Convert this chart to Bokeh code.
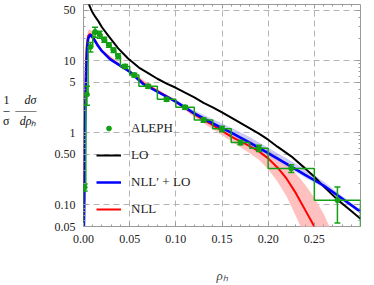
from bokeh.plotting import figure
from bokeh.models import (Range1d, FixedTicker, SingleIntervalTicker, LinearAxis, LogAxis,
                          CustomJSTickFormatter, PrintfTickFormatter, Legend, LegendItem)
from bokeh.embed import file_html
from bokeh.resources import INLINE

# ---------------- data ----------------
aleph_edges = [0.0, 0.0025, 0.005, 0.01, 0.015, 0.02, 0.025, 0.03, 0.035, 0.04, 0.05,
               0.06, 0.08, 0.10, 0.12, 0.14, 0.16, 0.18, 0.20, 0.25, 0.30]
aleph_values = [0.175, 3.4, 15.5, 25.0, 23.0, 19.5, 16.5, 14.0, 11.5, 8.3, 6.3,
                4.4, 2.9, 2.25, 1.5, 1.13, 0.73, 0.61, 0.32, 0.116]
aleph_errors = [0.02, 1.0, 2.3, 4.0, 2.5, 1.5, 1.2, 1.0, 0.9, 0.5, 0.4,
                0.25, 0.17, 0.13, 0.1, 0.1, 0.05, 0.06, 0.04, 0.06]

lo_rho = [0.0055, 0.008, 0.010, 0.013, 0.0162, 0.02, 0.027, 0.0376, 0.048, 0.06, 0.07, 0.08,
          0.09, 0.10, 0.11, 0.12, 0.13, 0.14, 0.15, 0.16, 0.175, 0.19, 0.20, 0.21, 0.225,
          0.24, 0.25, 0.26, 0.275, 0.29, 0.30]
lo_val = [62, 52, 46, 40, 35, 29, 22, 14.8, 10.8, 8.0, 6.7, 5.6,
          4.8, 4.2, 3.6, 3.1, 2.6, 2.25, 1.92, 1.62, 1.25, 0.97, 0.8, 0.64, 0.47,
          0.32, 0.245, 0.18, 0.118, 0.082, 0.064]

nllp_rho = [0.0005, 0.002, 0.003, 0.004, 0.005, 0.0073, 0.010, 0.015, 0.02, 0.0286, 0.035,
            0.045, 0.05, 0.065, 0.08, 0.10, 0.12, 0.14, 0.16, 0.18, 0.20, 0.22, 0.24,
            0.26, 0.28, 0.30]
nllp_val = [0.05, 2.0, 8.0, 15.0, 20.0, 23.0, 21.0, 16.5, 13.5, 10.5, 9.3,
            7.7, 7.0, 4.7, 3.7, 2.7, 1.85, 1.35, 1.0, 0.73, 0.52, 0.37, 0.26,
            0.185, 0.122, 0.08]

nll_rho = [0.0005, 0.0015, 0.0025, 0.0035, 0.005, 0.007, 0.01, 0.015, 0.02, 0.03, 0.04,
           0.05, 0.065, 0.08, 0.10, 0.12, 0.14, 0.16, 0.18, 0.19, 0.20, 0.21, 0.22,
           0.23, 0.24, 0.25, 0.255]
nll_val = [0.05, 1.5, 8.0, 16.0, 22.0, 23.5, 21.5, 16.8, 13.6, 10.4, 8.4,
           7.1, 4.85, 3.8, 2.7, 1.8, 1.27, 0.88, 0.65, 0.55, 0.44, 0.33, 0.23,
           0.145, 0.085, 0.05, 0.035]

nll_band_rho = [0.0015, 0.0025, 0.0035, 0.005, 0.007, 0.01, 0.015, 0.02, 0.05, 0.08, 0.10,
                0.12, 0.14, 0.16, 0.18, 0.19, 0.20, 0.21, 0.22, 0.23, 0.235, 0.24, 0.25,
                0.26, 0.267, 0.27]
nll_band_lo = [1.0, 6.0, 13.0, 19.5, 21.0, 19.5, 15.8, 13.0, 6.8, 3.65, 2.55,
               1.65, 1.12, 0.76, 0.52, 0.42, 0.31, 0.21, 0.13, 0.07, 0.05, 0.035, 0.02,
               0.01, 0.01, 0.01]
nll_band_hi = [2.5, 11.0, 20.0, 26.0, 27.5, 24.5, 17.8, 14.2, 7.3, 3.98, 2.88,
               1.97, 1.43, 1.02, 0.78, 0.68, 0.58, 0.47, 0.37, 0.27, 0.23, 0.19, 0.125,
               0.075, 0.048, 0.04]

nllp_band_rho = [0.08, 0.10, 0.12, 0.14, 0.16, 0.18, 0.20, 0.22, 0.24, 0.26, 0.28, 0.30]
nllp_band_lo = [3.62, 2.6, 1.76, 1.26, 0.92, 0.67, 0.48, 0.34, 0.24, 0.172, 0.113, 0.076]
nllp_band_hi = [3.8, 2.85, 2.03, 1.54, 1.17, 0.87, 0.62, 0.44, 0.31, 0.21, 0.132, 0.085]

y_ticks = [0.05, 0.1, 0.5, 1, 5, 10, 50]
y_tick_labels = ["0.05", "0.10", "0.50", "1", "5", "10", "50"]
y_minor = [0.06, 0.07, 0.08, 0.09, 0.2, 0.3, 0.4, 0.6, 0.7, 0.8, 0.9,
           2, 3, 4, 6, 7, 8, 9, 20, 30, 40]
x_grid = [0.05, 0.10, 0.15, 0.20, 0.25]
y_grid = [0.1, 0.5, 1, 5, 10, 50]

legend_labels = ["ALEPH", "LO", "NLL\u2032 + LO", "NLL"]
x_title = "\u03c1\u2095"
y_title_left = "1\n\u2013\n\u03c3\n\u00a0"
y_title_right = "d\u03c3\n\u2014\u2014\nd\u03c1\u2095\n\u00a0"

# ---------------- styles ----------------
GREEN = "#14a014"
FRAME = "#9a9a9a"
SERIF = "Liberation Serif"

p = figure(width=374, height=285, x_range=Range1d(0, 0.3), y_range=Range1d(0.05, 60),
           y_axis_type="log", output_backend="svg", toolbar_location=None,
           min_border_left=80, min_border_right=14, min_border_top=4, min_border_bottom=53)
p.background_fill_color = "white"
p.border_fill_color = "white"
p.outline_line_color = FRAME
p.outline_line_width = 1

# grids
p.xgrid.ticker = FixedTicker(ticks=x_grid)
p.ygrid.ticker = FixedTicker(ticks=y_grid)
for g in (p.xgrid, p.ygrid):
    g.grid_line_color = "#b4b4b4"
    g.grid_line_dash = "6 4"
    g.grid_line_width = 1

# axes
ylab_fmt = CustomJSTickFormatter(args=dict(vals=y_ticks, labs=y_tick_labels), code="""
    for (let i = 0; i < vals.length; i++) {
        if (Math.abs(vals[i] - tick) < 1e-6 * vals[i]) return labs[i];
    }
    return '';
""")
empty_fmt = CustomJSTickFormatter(code="return '';")

def style_axis(ax):
    ax.axis_line_color = None
    ax.major_tick_line_color = FRAME
    ax.minor_tick_line_color = FRAME
    ax.major_tick_out = 0
    ax.major_tick_in = 4
    ax.minor_tick_out = 0
    ax.minor_tick_in = 2
    ax.major_label_text_font = SERIF
    ax.major_label_text_font_size = "12px"
    ax.major_label_text_color = "#222222"

p.xaxis.ticker = SingleIntervalTicker(interval=0.05, num_minor_ticks=5)
p.xaxis.formatter = PrintfTickFormatter(format="%.2f")
p.xaxis.major_label_standoff = 8
p.xaxis.axis_label = x_title
p.xaxis.axis_label_text_font = SERIF
p.xaxis.axis_label_text_font_style = "italic"
p.xaxis.axis_label_text_font_size = "13px"
p.xaxis.axis_label_standoff = 22
style_axis(p.xaxis[0])

p.yaxis.ticker = FixedTicker(ticks=y_ticks, minor_ticks=y_minor)
p.yaxis.formatter = ylab_fmt
p.yaxis.major_label_standoff = 8
style_axis(p.yaxis[0])

top_ax = LinearAxis(ticker=SingleIntervalTicker(interval=0.05, num_minor_ticks=5),
                    formatter=empty_fmt)
style_axis(top_ax)
top_ax.major_label_text_font_size = "0px"
top_ax.major_label_standoff = 0
p.add_layout(top_ax, "above")

right_ax = LogAxis(ticker=FixedTicker(ticks=y_ticks, minor_ticks=y_minor), formatter=empty_fmt)
style_axis(right_ax)
right_ax.major_label_text_font_size = "0px"
right_ax.major_label_standoff = 0
p.add_layout(right_ax, "right")

# y-axis title as a fraction: two tickless axes stacked on the left
def title_axis(text, standoff, style):
    ax = LinearAxis(ticker=FixedTicker(ticks=[]), formatter=empty_fmt)
    ax.axis_line_color = None
    ax.major_tick_line_color = None
    ax.minor_tick_line_color = None
    ax.major_tick_out = 0
    ax.minor_tick_out = 0
    ax.major_label_standoff = 0
    ax.major_label_text_font_size = "0px"
    ax.axis_label = text
    ax.axis_label_orientation = "horizontal"
    ax.axis_label_standoff = standoff
    ax.axis_label_text_font = SERIF
    ax.axis_label_text_font_size = "12px"
    ax.axis_label_text_font_style = style
    ax.axis_label_text_line_height = 0.75
    ax.axis_label_text_color = "#111111"
    return ax

p.add_layout(title_axis(y_title_right, 15, "italic"), "left")
p.add_layout(title_axis(y_title_left, 3, "normal"), "left")

# bands
p.varea(x=nll_band_rho, y1=nll_band_lo, y2=nll_band_hi, fill_color="#ffc0c0", fill_alpha=1.0)
p.varea(x=nllp_band_rho, y1=nllp_band_lo, y2=nllp_band_hi, fill_color="#a8a8f0", fill_alpha=0.6)

# curves
lo_r = p.line(lo_rho, lo_val, line_color="black", line_width=2)
nll_r = p.line(nll_rho, nll_val, line_color="#ff0000", line_width=2)
nllp_r = p.line(nllp_rho, nllp_val, line_color="#0000ff", line_width=2.5)

# ALEPH histogram
floor = 0.01
hx = [aleph_edges[0]]
hy = [floor]
for i, v in enumerate(aleph_values):
    hx += [aleph_edges[i], aleph_edges[i + 1]]
    hy += [v, v]
hx.append(aleph_edges[-1])
hy.append(floor)
p.line(hx, hy, line_color=GREEN, line_width=1.5)

centers = [(aleph_edges[i] + aleph_edges[i + 1]) / 2 for i in range(len(aleph_values))]
lows = [v - e for v, e in zip(aleph_values, aleph_errors)]
highs = [v + e for v, e in zip(aleph_values, aleph_errors)]
p.segment(x0=centers, y0=lows, x1=centers, y1=highs, line_color=GREEN, line_width=1.5)
p.scatter(x=centers + centers, y=lows + highs, marker="dash", size=6,
          line_color=GREEN, line_width=1.5)
dots = p.scatter(x=centers, y=aleph_values, marker="circle", size=5,
                 fill_color=GREEN, line_color=GREEN)

# legend
legend = Legend(items=[LegendItem(label=legend_labels[0], renderers=[dots]),
                       LegendItem(label=legend_labels[1], renderers=[lo_r]),
                       LegendItem(label=legend_labels[2], renderers=[nllp_r]),
                       LegendItem(label=legend_labels[3], renderers=[nll_r])],
                location=(13, 7), orientation="vertical")
legend.background_fill_alpha = 0
legend.border_line_alpha = 0
legend.padding = 0
legend.margin = 0
legend.spacing = 7
legend.glyph_height = 12
legend.glyph_width = 25
legend.label_height = 20
legend.label_standoff = 10
legend.label_text_font = SERIF
legend.label_text_font_size = "13px"
legend.label_text_color = "#222222"
p.add_layout(legend)

open("out.html", "w").write(file_html(p, INLINE))
